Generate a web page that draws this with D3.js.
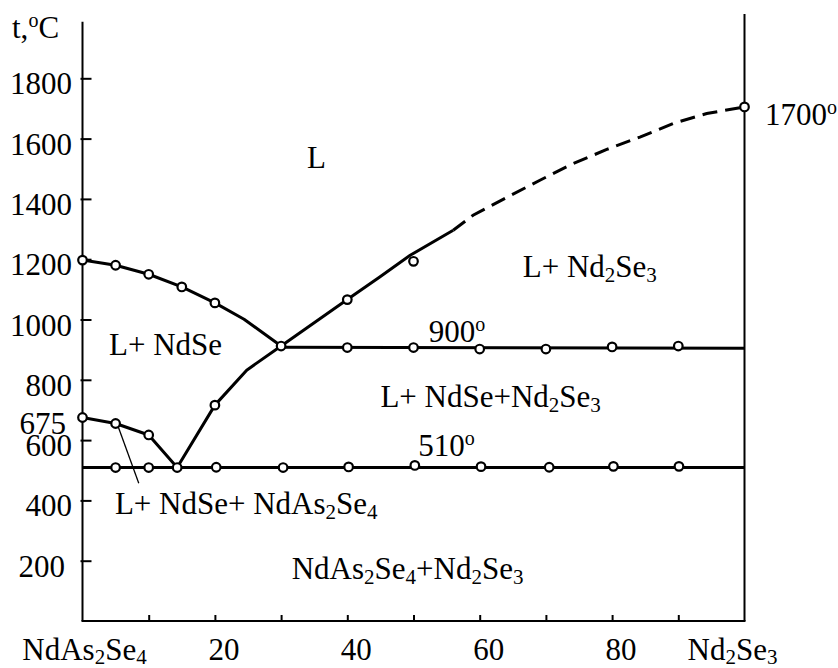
<!DOCTYPE html>
<html>
<head>
<meta charset="utf-8">
<script src="https://cdn.jsdelivr.net/npm/d3@7/dist/d3.min.js"></script>
<style>
  html, body { margin: 0; padding: 0; background: #fff; }
  svg { display: block; }
</style>
</head>
<body>
<svg id="chart" width="838" height="668"></svg>
<script>
// ---------- DATA ----------
// composition: mol % Nd2Se3 ; temperature: °C
const yTickValues = [200, 400, 600, 800, 1000, 1200, 1400, 1600, 1800];
const yTickLabels = ["200", "400", "600", "800", "1000", "1200", "1400", "1600", "1800"];
const extraYLabel = { value: 675, label: "675" };
const xTickValues = [10, 20, 30, 40, 50, 60, 70, 80, 90];
const xTickLabels = [
  { value: 0, label: "NdAs_2Se_4" },
  { value: 20, label: "20" },
  { value: 40, label: "40" },
  { value: 60, label: "60" },
  { value: 80, label: "80" },
  { value: 100, label: "Nd_2Se_3" }
];

// NdSe liquidus (left, upper)
const ndseLiquidus = [[0, 1197], [5, 1180], [10, 1150], [15, 1108], [20, 1055], [24.4, 1001], [30, 912]];
const ndseLiquidusMarkers = [[0, 1197], [5, 1180], [10, 1150], [15, 1108], [20, 1055]];

// NdAs2Se4 liquidus (left, lower)
const ndas2se4Liquidus = [[0, 675], [5, 655], [10, 617], [14.3, 509]];
const ndas2se4Markers = [[0, 675], [5, 655], [10, 617]];

// Nd2Se3 / NdSe liquidus rising to the right
const risingLiquidusSolid = [[14.3, 509], [20, 716], [24.8, 832], [30, 912], [40, 1066], [44.9, 1141], [49.5, 1213], [56, 1296]];
const risingLiquidusDashed = [[56, 1296], [59, 1346], [64.1, 1405], [69.1, 1462], [74.1, 1517], [79.2, 1564], [84.2, 1605], [89.2, 1650], [94.3, 1683], [100, 1705]];
const risingMarkers = [[20, 716], [40, 1066], [50, 1193], [100, 1705]];

// 900° horizontal
const line900 = [[30, 908], [100, 905]];
const markers900 = [[30, 912], [40, 907], [50, 907], [60, 902], [70, 902], [80, 909], [90, 912]];

// 510° horizontal
const line510 = [[0, 509], [100, 509]];
const markers510 = [[5, 509], [10, 509], [14.3, 509], [20.2, 510], [30.3, 509], [40.2, 511], [50.2, 516], [60.2, 512], [70.5, 510], [80.2, 513], [90.1, 513]];

// pointer from a data point to the three-phase label
const leader = [[5.3, 650], [8.5, 457]];

// region / value labels (anchored at composition, temperature)
const annotations = [
  { c: 33.9, t: 1502, text: "L" },
  { c: 4.0, t: 882, text: "L+ NdSe" },
  { c: 52.3, t: 925, text: "900^o" },
  { c: 66.5, t: 1140, text: "L+ Nd_2Se_3" },
  { c: 45.0, t: 710, text: "L+ NdSe+Nd_2Se_3" },
  { c: 50.7, t: 547, text: "510^o" },
  { c: 4.9, t: 355, text: "L+ NdSe+ NdAs_2Se_4" },
  { c: 31.6, t: 139, text: "NdAs_2Se_4+Nd_2Se_3" },
  { c: 103.1, t: 1644, text: "1700^o" }
];
const yAxisTitle = "t,^oC";

// ---------- DRAWING ----------
const FONT = "'Liberation Serif', 'Times New Roman', Times, serif";
const svg = d3.select("#chart").attr("font-family", FONT);
const x = d3.scaleLinear().domain([0, 100]).range([82.5, 744.5]);
const y = d3.scaleLinear().domain([0, 1800]).range([621, 78.3]);

const FS = 31, SUB = 21, SUP = 20;

function txt() {
  return svg.append("text").attr("font-family", FONT).attr("fill", "#000");
}

// rich text: _d => subscript char, ^o => superscript char
function rich(sel, str, subShift = 5) {
  const parts = [];
  let i = 0, buf = "";
  while (i < str.length) {
    const ch = str[i];
    if ((ch === "_" || ch === "^") && i + 1 < str.length) {
      if (buf) { parts.push({ t: buf, k: "n" }); buf = ""; }
      parts.push({ t: str[i + 1], k: ch === "_" ? "sub" : "sup" });
      i += 2;
    } else { buf += ch; i++; }
  }
  if (buf) parts.push({ t: buf, k: "n" });
  let shift = 0;
  parts.forEach(p => {
    const target = p.k === "sub" ? subShift : p.k === "sup" ? -11 : 0;
    sel.append("tspan").text(p.t)
      .attr("dy", target - shift)
      .attr("font-family", FONT)
      .attr("font-size", p.k === "n" ? FS : (p.k === "sub" ? SUB : SUP));
    shift = target;
  });
}

const line = d3.line().x(d => x(d[0])).y(d => y(d[1]));

// axes frame
svg.append("line").attr("x1", x(0)).attr("x2", x(0)).attr("y1", y(0)).attr("y2", 21.7)
  .attr("stroke", "#000").attr("stroke-width", 2);
svg.append("line").attr("x1", x(100)).attr("x2", x(100)).attr("y1", y(0)).attr("y2", 14)
  .attr("stroke", "#000").attr("stroke-width", 2);
svg.append("line").attr("x1", x(0) - 1).attr("x2", x(100) + 1).attr("y1", y(0)).attr("y2", y(0))
  .attr("stroke", "#000").attr("stroke-width", 2);

// y axis ticks (inward)
const yAxis = d3.axisLeft(y).tickValues(yTickValues).tickSizeInner(-9).tickSizeOuter(0).tickFormat("");
const gy = svg.append("g").attr("transform", `translate(${x(0)},0)`).call(yAxis);
gy.select(".domain").remove();
gy.selectAll(".tick line").attr("stroke", "#000").attr("stroke-width", 2).attr("x1", -2);

// x axis ticks (inward)
const xAxis = d3.axisBottom(x).tickValues(xTickValues).tickSizeInner(-6).tickSizeOuter(0).tickFormat("");
const gx = svg.append("g").attr("transform", `translate(0,${y(0)})`).call(xAxis);
gx.select(".domain").remove();
gx.selectAll(".tick line").attr("stroke", "#000").attr("stroke-width", 2);

// y tick labels
const yLabelShift = { "200": -7, "675": -6 };
yTickValues.forEach((v, i) => {
  txt().attr("x", 72 + (yLabelShift[yTickLabels[i]] || 0)).attr("y", y(v) + 16)
    .attr("text-anchor", "end").attr("font-size", FS).text(yTickLabels[i]);
});
txt().attr("x", 72 + yLabelShift[extraYLabel.label]).attr("y", y(extraYLabel.value) + 17)
  .attr("text-anchor", "end").attr("font-size", FS).text(extraYLabel.label);

// x tick labels
xTickLabels.forEach(d => {
  const t = txt().attr("y", 660).attr("font-size", FS);
  if (d.value === 0) t.attr("x", x(d.value) + 2).attr("text-anchor", "middle");
  else if (d.value === 100) t.attr("x", x(d.value) + 33).attr("text-anchor", "end");
  else t.attr("x", x(d.value) + 9).attr("text-anchor", "middle");
  rich(t, d.label, 4);
});

// axis title
const tt = txt().attr("x", 12).attr("y", 38).attr("font-size", FS);
rich(tt, yAxisTitle);

// curves
const solidCurves = [ndseLiquidus, ndas2se4Liquidus, risingLiquidusSolid, line900, line510];
solidCurves.forEach(c => {
  svg.append("path").attr("d", line(c)).attr("fill", "none").attr("stroke", "#000")
    .attr("stroke-width", 3).attr("stroke-linejoin", "round");
});
svg.append("path").attr("d", line(risingLiquidusDashed)).attr("fill", "none").attr("stroke", "#000")
  .attr("stroke-width", 3).attr("stroke-dasharray", "15,8");

// leader line
svg.append("path").attr("d", line(leader)).attr("fill", "none").attr("stroke", "#000").attr("stroke-width", 1.3);

// markers
const allMarkers = [].concat(ndseLiquidusMarkers, ndas2se4Markers, risingMarkers, markers900, markers510);
svg.append("g").selectAll("circle").data(allMarkers).join("circle")
  .attr("cx", d => x(d[0])).attr("cy", d => y(d[1])).attr("r", 4.3)
  .attr("fill", "#fff").attr("stroke", "#000").attr("stroke-width", 2.2);

// annotations
annotations.forEach(a => {
  const t = txt().attr("x", x(a.c)).attr("y", y(a.t)).attr("font-size", FS);
  rich(t, a.text);
});
</script>
</body>
</html>
